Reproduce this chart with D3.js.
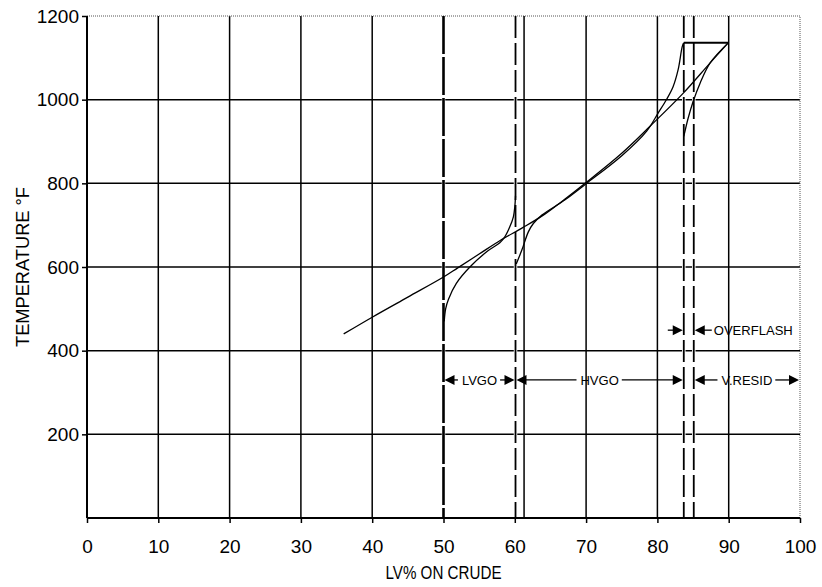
<!DOCTYPE html>
<html>
<head>
<meta charset="utf-8">
<script src="https://cdn.jsdelivr.net/npm/d3@7"></script>
<style>
  body { margin: 0; background: #fff; }
  svg { font-family: "Liberation Sans", Arial, Helvetica, sans-serif; }
</style>
</head>
<body>
<svg id="chart" width="822" height="587"></svg>
<script>
// values (LV% on crude, temperature F)
var xTicks = [0, 10, 20, 30, 40, 50, 60, 70, 80, 90, 100];
var yTicks = [200, 400, 600, 800, 1000, 1200];

var crudeTBP = [[36, 440], [40, 480], [45, 528], [50, 576], [52, 598], [55, 631], [58, 664],
                [61, 693], [64, 724], [67, 762], [70, 802], [75, 872], [79, 937], [83.6, 1015],
                [87.4, 1088], [90, 1137]];
var lvgoTBP = [[50.1, 470], [50.3, 500], [50.7, 523], [51.8, 561], [53.7, 600], [56.1, 637],
               [57.9, 658], [58.6, 672], [59.3, 696], [59.8, 720], [60.0, 744], [60.1, 770]];
var hvgoTBP = [[60.2, 607], [61.0, 641], [61.9, 684], [62.6, 704], [63.8, 724], [67, 760],
               [70, 799], [75, 866], [78.5, 925], [80.1, 968], [81.3, 1001], [82.2, 1031],
               [82.9, 1071], [83.5, 1128], [83.7, 1136]];
var residTBP = [[83.7, 912], [84.3, 955], [85.0, 995], [86.0, 1040], [87.4, 1088], [90, 1137]];
var endPoint = [[83.7, 1136], [90, 1136]];

var cutLines = [50, 60.1, 83.7, 85.1];   // dashed cut points
var extraLines = [61.3];                // solid line just right of 60

var rangeRow = 330;
var ranges = [
  {label: "LVGO", from: 50, to: 60.1},
  {label: "HVGO", from: 60.1, to: 83.7},
  {label: "V.RESID", from: 85.1, to: 100}
];
var overflashRow = 449;
var overflash = {label: "OVERFLASH", from: 83.7, to: 85.1};

var svg = d3.select("#chart");
var pLeft = 87, pRight = 800, pTop = 16, pBottom = 518;

var x = d3.scaleLinear().domain([0, 100]).range([pLeft, pRight]);
var y = d3.scaleLinear().domain([0, 1200]).range([pBottom, pTop]);

//////////////////////////// GRID ////////////////////////////
var grid = svg.append("g");

grid.selectAll("line.v")
  .data(xTicks.filter(function(d) { return d > 0 && d < 100; }))
  .enter().append("line")
  .attr("x1", function(d) { return x(d); })
  .attr("x2", function(d) { return x(d); })
  .attr("y1", pTop).attr("y2", pBottom)
  .attr("stroke", "#000").attr("stroke-width", 1.5);

grid.selectAll("line.h")
  .data(yTicks.filter(function(d) { return d < 1200; }))
  .enter().append("line")
  .attr("x1", pLeft).attr("x2", pRight)
  .attr("y1", function(d) { return y(d); })
  .attr("y2", function(d) { return y(d); })
  .attr("stroke", "#000").attr("stroke-width", 1.5);

// dotted frame on top and right
grid.append("path")
  .attr("d", "M" + pLeft + "," + y(1200) + "H" + x(100) + "V" + pBottom)
  .attr("fill", "none").attr("stroke", "#555").attr("stroke-width", 1)
  .attr("stroke-dasharray", "1,1");

grid.selectAll("line.extra")
  .data(extraLines)
  .enter().append("line")
  .attr("x1", function(d) { return x(d); })
  .attr("x2", function(d) { return x(d); })
  .attr("y1", pTop).attr("y2", pBottom)
  .attr("stroke", "#000").attr("stroke-width", 1.5);

// dashed cut lines (white underlay makes the gaps)
grid.selectAll("line.cutw")
  .data(cutLines)
  .enter().append("line")
  .attr("x1", function(d) { return x(d); })
  .attr("x2", function(d) { return x(d); })
  .attr("y1", pTop).attr("y2", pBottom)
  .attr("stroke", "#fff").attr("stroke-width", 3.5);

grid.selectAll("line.cut")
  .data(cutLines)
  .enter().append("line")
  .attr("x1", function(d) { return x(d); })
  .attr("x2", function(d) { return x(d); })
  .attr("y1", pTop).attr("y2", pBottom)
  .attr("stroke", "#000")
  .attr("stroke-width", function(d) { return d == 50 ? 2.6 : 1.8; })
  .attr("stroke-dasharray", function(d) { return d == 50 ? "38,3" : "22,5"; });

//////////////////////////// AXES ////////////////////////////
var xAxis = svg.append("g")
  .attr("transform", "translate(0," + pBottom + ")")
  .call(d3.axisBottom(x).tickValues(xTicks).tickSize(5).tickPadding(17)
          .tickFormat(d3.format("d")));

var yAxis = svg.append("g")
  .attr("transform", "translate(" + pLeft + ",0)")
  .call(d3.axisLeft(y).tickValues(yTicks).tickSize(5).tickPadding(3)
          .tickFormat(d3.format("d")));

[xAxis, yAxis].forEach(function(a) {
  a.select(".domain").attr("stroke", "#000").attr("stroke-width", 2);
  a.selectAll(".tick line").attr("stroke", "#000").attr("stroke-width", 1.5);
  a.selectAll(".tick text")
    .attr("fill", "#000")
    .style("font-size", "19px")
    .style("font-family", "'Liberation Sans', Arial, sans-serif");
});
xAxis.select(".domain").attr("d", "M" + pLeft + ",0H" + pRight);
yAxis.select(".domain").attr("d", "M0," + pBottom + "V" + pTop);

svg.append("text")
  .attr("x", (pLeft + pRight) / 2)
  .attr("y", 579)
  .attr("text-anchor", "middle")
  .attr("textLength", 116)
  .attr("lengthAdjust", "spacingAndGlyphs")
  .style("font-size", "17.5px")
  .text("LV% ON CRUDE");

svg.append("text")
  .attr("transform", "translate(29," + ((pTop + pBottom) / 2) + ") rotate(-90)")
  .attr("text-anchor", "middle")
  .attr("textLength", 160)
  .attr("lengthAdjust", "spacingAndGlyphs")
  .style("font-size", "18px")
  .text("TEMPERATURE °F");

//////////////////////////// CURVES ////////////////////////////
var line = d3.line()
  .x(function(d) { return x(d[0]); })
  .y(function(d) { return y(d[1]); })
  .curve(d3.curveCatmullRom.alpha(0.5));

var straight = d3.line()
  .x(function(d) { return x(d[0]); })
  .y(function(d) { return y(d[1]); });

var curves = svg.append("g").attr("fill", "none").attr("stroke", "#000").attr("stroke-width", 1.3);
curves.append("path").attr("d", line(crudeTBP));
curves.append("path").attr("d", line(lvgoTBP));
curves.append("path").attr("d", line(hvgoTBP));
curves.append("path").attr("d", line(residTBP));
curves.append("path").attr("d", straight(endPoint)).attr("stroke-width", 1.8);

//////////////////////////// ANNOTATIONS ////////////////////////////
var notes = svg.append("g");

function arrowHead(tipX, yy, dir) {
  // dir = -1 points left, +1 points right
  var len = 10, half = 5;
  notes.append("path")
    .attr("d", "M" + tipX + "," + yy + "L" + (tipX - dir * len) + "," + (yy - half) +
               "L" + (tipX - dir * len) + "," + (yy + half) + "Z")
    .attr("fill", "#000");
}

function shaft(x1, x2, yy) {
  if (x2 - x1 < 1) return;
  notes.append("line")
    .attr("x1", x1).attr("x2", x2).attr("y1", yy).attr("y2", yy)
    .attr("stroke", "#000").attr("stroke-width", 1.3);
}

ranges.forEach(function(r) {
  var yy = y(rangeRow);
  var x1 = x(r.from), x2 = x(r.to);
  var t = notes.append("text")
    .attr("x", (x1 + x2) / 2)
    .attr("y", yy)
    .attr("dy", "0.36em")
    .attr("text-anchor", "middle")
    .style("font-size", "13px")
    .text(r.label);
  var w = t.node().getComputedTextLength();
  arrowHead(x1 + 1, yy, -1);
  arrowHead(x2 - 1, yy, 1);
  shaft(x1 + 8, (x1 + x2) / 2 - w / 2 - 4, yy);
  shaft((x1 + x2) / 2 + w / 2 + 3, x2 - 8, yy);
});

(function() {
  var yy = y(overflashRow);
  var x1 = x(overflash.from), x2 = x(overflash.to);
  arrowHead(x1 - 1, yy, 1);
  shaft(x1 - 16, x1 - 8, yy);
  arrowHead(x2 + 1, yy, -1);
  shaft(x2 + 8, x2 + 18, yy);
  notes.append("text")
    .attr("x", x2 + 20)
    .attr("y", yy)
    .attr("dy", "0.36em")
    .attr("textLength", 79)
    .attr("lengthAdjust", "spacingAndGlyphs")
    .style("font-size", "13px")
    .text(overflash.label);
})();
</script>
</body>
</html>
